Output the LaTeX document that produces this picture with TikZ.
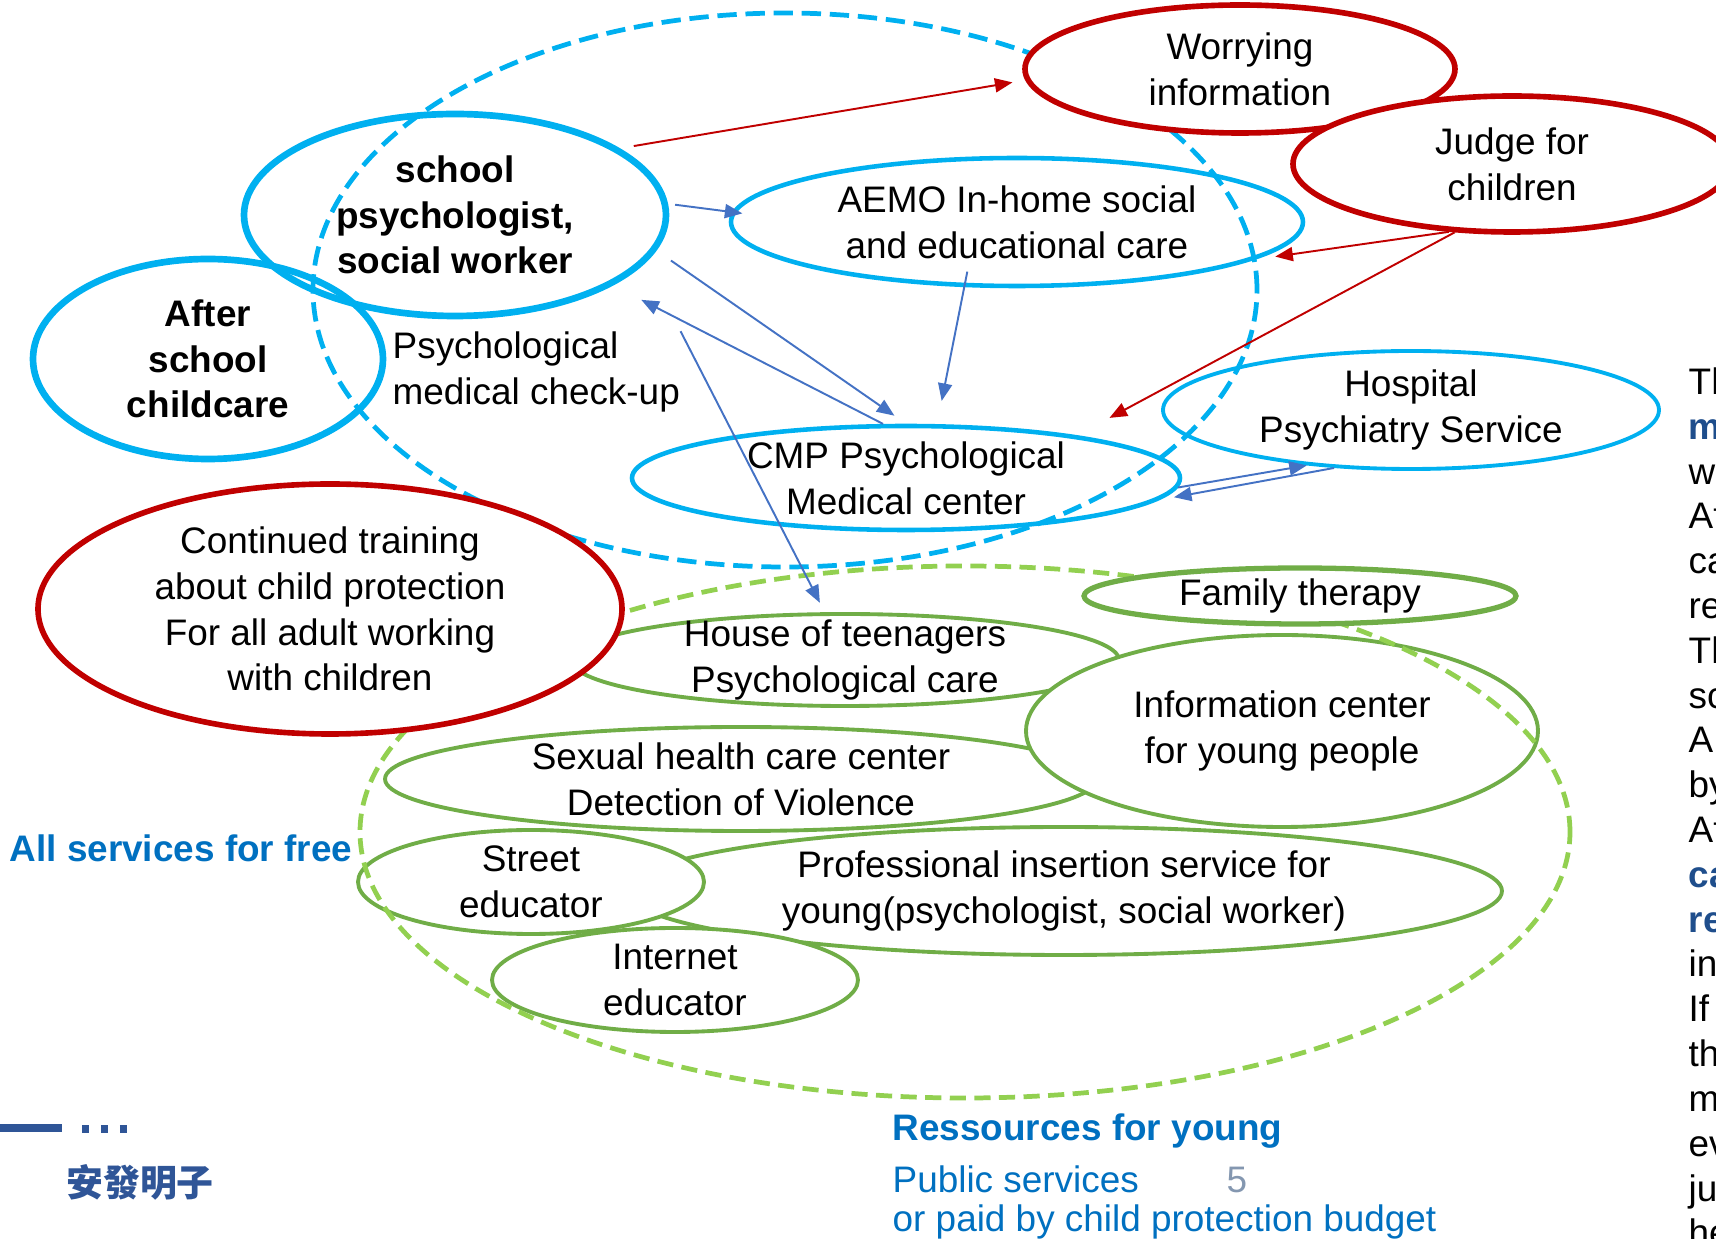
\documentclass[tikz,border=0pt]{standalone}
\usepackage{fontspec}
\setmainfont{Liberation Sans}
\newfontfamily\cjkfont{Noto Sans CJK TC}
\usetikzlibrary{shapes.geometric, arrows.meta, positioning}
\definecolor{colb}{HTML}{00B0F0}
\definecolor{colr}{HTML}{C00000}
\definecolor{colg}{HTML}{70AD47}
\definecolor{colgd}{HTML}{92D050}
\definecolor{cola}{HTML}{4472C4}
\definecolor{colt}{HTML}{0070C0}
\definecolor{coln}{HTML}{2F5597}
\definecolor{cols}{HTML}{8497B0}
\definecolor{cold}{HTML}{1F4E8C}

\begin{document}
\begin{tikzpicture} [on grid, font = \fontsize{10.5}{13}\selectfont,
  bold/.style = {font = \fontsize{10.5}{13}\selectfont\bfseries},
  ell/.style = {ellipse, inner sep = -5pt, align = center},
  sky/.style = {ell, draw = colb, line width = 1.3pt},
  rim/.style = {ell, draw = colr, line width = 1.6pt, fill = white},
  leaf/.style = {ell, draw = colg, line width = 1.1pt, fill = white},
  ring/.style = {ellipse, line width = 1.35pt},
  ln/.style = {line width = 0.55pt, -{Triangle[length = 5pt, width = 4pt]}}]
\useasboundingbox (0,0) rectangle (17.16,-12.39);
\clip (0,0) rectangle (17.16,-12.39);
% school side
\draw (4.55,-2.15) node(sp) [sky, bold, line width = 1.9pt, minimum width = 4.22cm, minimum height = 2.02cm] {school\\ psychologist,\\ social worker};
\draw (2.08,-3.59) node(as) [sky, bold, line width = 1.9pt, minimum width = 3.50cm, minimum height = 2.00cm] {After\\ school\\ childcare};
\draw (10.17,-2.22) node(ae) [sky, minimum width = 5.72cm, minimum height = 1.28cm] {AEMO In-home social\\ and educational care};
\draw (9.06,-4.78) node(cmp) [sky, minimum width = 5.48cm, minimum height = 1.04cm] {CMP Psychological\\ Medical center};
\draw (14.11,-4.10) node(hp) [sky, line width = 1.1pt, minimum width = 4.96cm, minimum height = 1.18cm] {Hospital\\ Psychiatry Service};
\draw (3.92,-3.72) node(chk) [anchor = west, align = left, inner sep = 0] {Psychological\\ medical check-up};
\draw (7.85,-2.90) node(bd) [ring, draw = colb, dash pattern = on 5.5pt off 2.5pt, minimum width = 9.44cm, minimum height = 5.54cm] {};
% justice
\draw (12.40,-0.69) node(wi) [rim, minimum width = 4.30cm, minimum height = 1.28cm] {Worrying\\ information};
\draw (15.12,-1.64) node(jc) [rim, minimum width = 4.38cm, minimum height = 1.36cm] {Judge for\\ children};
% ressources for young
\draw (8.45,-6.60) node(ht) [leaf, minimum width = 5.48cm, minimum height = 0.92cm] {House of teenagers\\ Psychological care};
\draw (7.41,-7.79) node(sh) [leaf, minimum width = 7.12cm, minimum height = 1.04cm] {Sexual health care center\\ Detection of Violence};
\draw (10.64,-8.91) node(pi) [leaf, minimum width = 8.76cm, minimum height = 1.28cm] {Professional insertion service for\\ young(psychologist, social worker)};
\draw (5.31,-8.82) node(se) [leaf, minimum width = 3.46cm, minimum height = 1.04cm] {Street\\ educator};
\draw (6.75,-9.80) node(ie) [leaf, minimum width = 3.66cm, minimum height = 1.04cm] {Internet\\ educator};
\draw (12.82,-7.31) node(ic) [leaf, minimum width = 5.12cm, minimum height = 1.92cm] {Information center\\ for young people};
\draw (9.65,-8.32) node(gd) [ring, draw = colgd, dash pattern = on 4.6pt off 2.4pt, minimum width = 12.10cm, minimum height = 5.32cm] {};
\draw (13.00,-5.96) node(ft) [leaf, line width = 1.5pt, minimum width = 4.32cm, minimum height = 0.56cm] {Family therapy};
\draw (3.30,-6.09) node(ct) [rim, minimum width = 5.84cm, minimum height = 2.50cm] {Continued training\\ about child protection\\ For all adult working\\ with children};
% texts
\draw (0.09,-8.48) node(asf) [anchor = west, inner sep = 0, text = colt, bold] {All services for free};
\draw (8.92,-11.31) node(rfy) [anchor = west, inner sep = 0, text = colt, bold] {Ressources for young};
\node (pub) [below = 0.48cm of rfy.west, anchor = west, inner sep = 0, text = colt] {Public services};
\node (bud) [below = 0.43cm of pub.west, anchor = west, inner sep = 0, text = colt] {or paid by child protection budget};
\draw (12.37,-11.80) node(pg) [text = cols] {5};
\draw (1.40,-11.82) node(nm) [text = coln, font = \fontsize{10.5}{13}\selectfont\cjkfont\bfseries] {安發明子};
\draw [coln, line width = 2pt] (0,-11.28) -- (0.62,-11.28);
\draw [coln, line width = 2pt, dash pattern = on 2pt off 3.4pt] (0.82,-11.29) -- (1.30,-11.29);
\draw (16.88,-3.67) node(rc) [anchor = north west, align = left, inner sep = 0, font = \fontsize{10.5}{12.75}\selectfont] {Th\\ \textcolor{cold}{\bfseries m}\\ w\\ At\\ ca\\ re\\ Th\\ sc\\ A\\ by\\ At\\ \textcolor{cold}{\bfseries ca}\\ \textcolor{cold}{\bfseries re}\\ in\\ If\\ th\\ m\\ ev\\ ju\\ he};
% arrows
\path [ln, colr]
    (sp.22) edge [shorten <= 4pt, shorten >= 3.7pt] (wi.183)
    (jc.227) edge [shorten >= 6pt] (ae.351)
    (jc.230) edge [shorten >= 10.5pt] (cmp.14);
\path [ln, cola]
    (sp.3) edge [shorten <= 2pt, shorten >= -3pt] (ae.178)
    (sp.350) edge [shorten <= 5pt, shorten >= 4pt] (cmp.90)
    (cmp.113) edge [shorten >= 9pt] (sp.336)
    (ae.231) edge [shorten <= -4.5pt, shorten >= 6.7pt] (cmp.60)
    (chk.north east) edge [shorten >= 3pt] (ht.113)
    (cmp.358) edge (hp.208)
    (hp.217) edge [shorten >= 4.5pt] (cmp.355);
\end{tikzpicture}
\end{document}
